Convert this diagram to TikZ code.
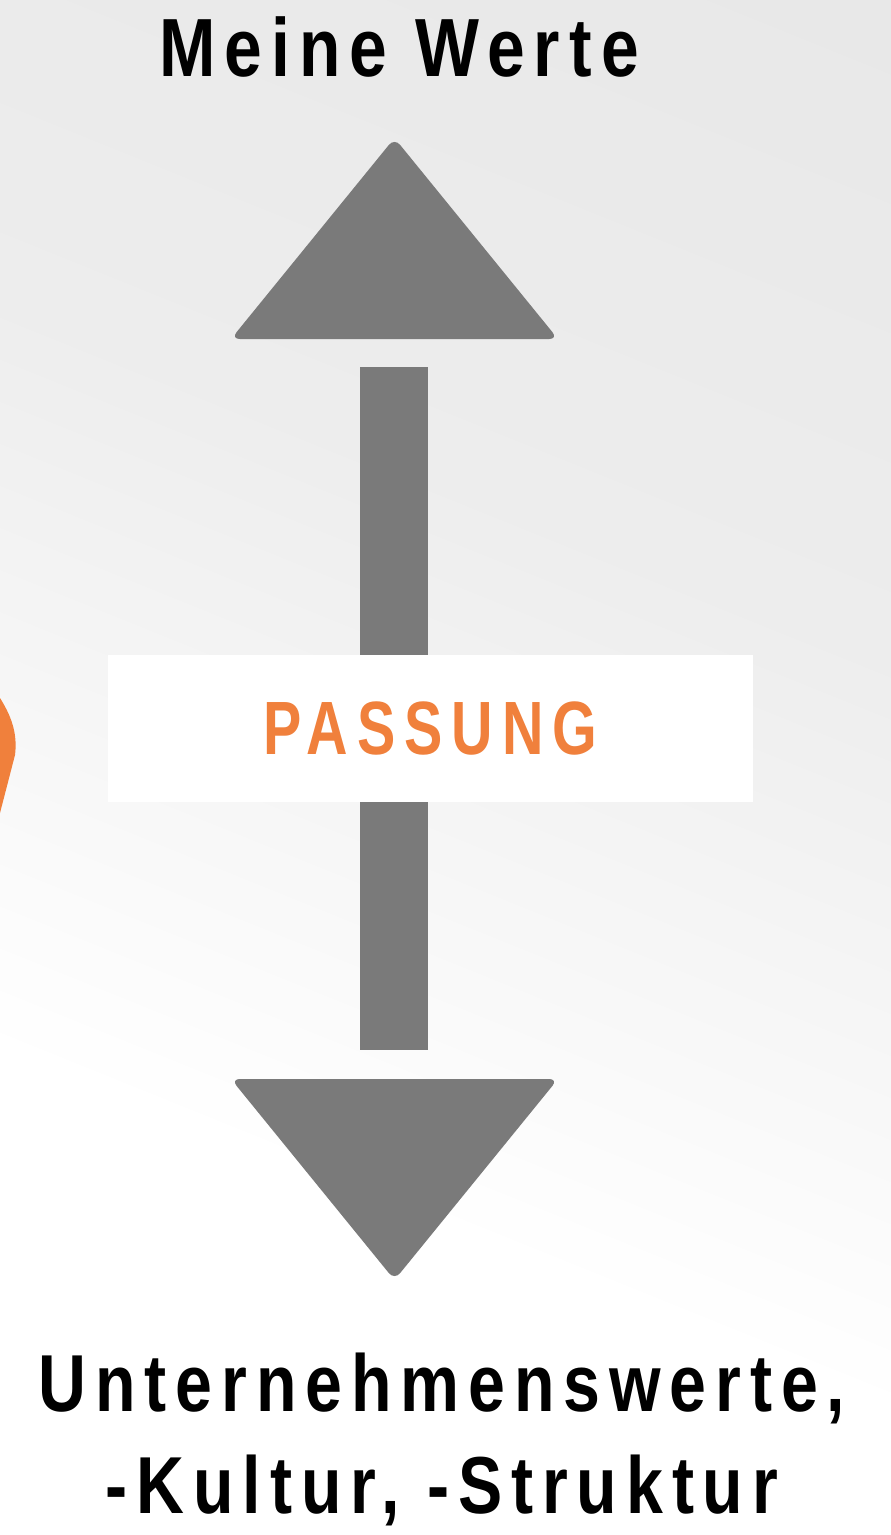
\documentclass[tikz,border=0pt]{standalone}
\usepackage{fontspec}
\setmainfont{Liberation Sans}
\newfontfamily\condfont{Liberation Sans}[FakeStretch=0.82, LetterSpace=11]
\newfontfamily\labelfont{Liberation Sans}[FakeStretch=0.76, LetterSpace=12]
\usepackage{xcolor}
\definecolor{arrowgray}{HTML}{7A7A7A}
\definecolor{fitorange}{HTML}{F0803C}
\definecolor{bgtop}{HTML}{E4E4E4}
\definecolor{bgmid}{HTML}{EDEDED}
\usepackage{tikz}
\usetikzlibrary{positioning}
\pgfdeclareverticalshading{backdrop}{100bp}{color(0bp)=(white); color(34bp)=(white);
  color(60bp)=(bgmid); color(100bp)=(bgtop)}

\begin{document}
\begin{tikzpicture}[x=0.02cm, y=-0.02cm, font=\condfont\bfseries]

  % background
  \useasboundingbox (0,0) rectangle (891,1535);
  \shade[shading=backdrop, shading angle=-22] (0,0) rectangle (891,1535);

  % orange shape cut by the left edge
  \fill[fitorange] (0,698) .. controls (10,714) and (18,732) .. (15,755)
    -- (0,813) -- cycle;

  % arrow heads
  \fill[arrowgray, rounded corners=5pt] (394.5,138) -- (558,339) -- (231,339) -- cycle;
  \fill[arrowgray, rounded corners=5pt] (231,1079) -- (558,1079) -- (394.5,1280) -- cycle;

  \node[fill=white, inner sep=0pt, minimum width=12.9cm, minimum height=2.94cm,
        text=fitorange, font=\labelfont\bfseries\fontsize{43}{50}\selectfont]
        (passung) at (430.5,728.5) {PASSUNG};

  \coordinate (bartop) at (394,367);
  \coordinate (barbot) at (394,1050);

  \draw[arrowgray, line width=1.36cm] (bartop) -- (bartop |- passung.north);
  \draw[arrowgray, line width=1.36cm] (barbot |- passung.south) -- (barbot);

  \node[anchor=base, font=\condfont\bfseries\fontsize{47}{56}\selectfont]
        (mine) at (399,76) {Meine Werte};

  \node[anchor=base, align=center,
        font=\condfont\bfseries\fontsize{46}{58}\selectfont]
        (company) at (442,1513) {Unternehmenswerte,\\-Kultur, -Struktur};

\end{tikzpicture}
\end{document}
